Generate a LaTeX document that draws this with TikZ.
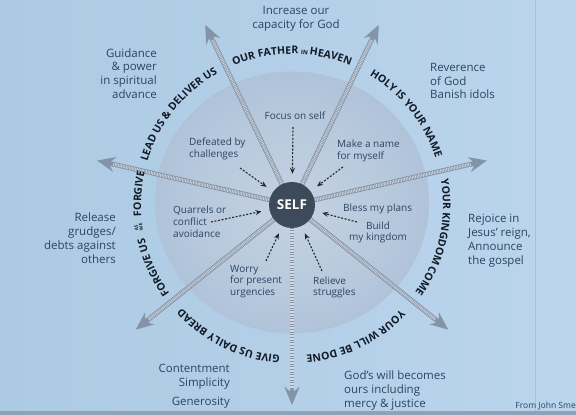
\documentclass[tikz,border=0pt]{standalone}
\usepackage{fontspec}
\setmainfont{Open Sans}
\usetikzlibrary{arrows.meta,decorations.text}

\definecolor{bgleft}{HTML}{ADCAE4}
\definecolor{bgright}{HTML}{BAD5EC}
\definecolor{bandgray}{HTML}{8EA2B8}
\definecolor{slideedge}{HTML}{A5C1DA}
\definecolor{disklight}{HTML}{C4D3E4}
\definecolor{diskmid}{HTML}{A3B8D1}
\definecolor{diskdark}{HTML}{88A0BF}
\definecolor{spokegray}{HTML}{8493A7}
\definecolor{inktext}{HTML}{2B4462}
\definecolor{archink}{HTML}{121A26}
\definecolor{selffill}{HTML}{3D4A59}

\pgfdeclareradialshading{diskshade}{\pgfpoint{0bp}{-1bp}}{color(0bp)=(disklight); color(18bp)=(disklight!60!diskmid); color(38bp)=(diskmid); color(50bp)=(diskdark)}

\newcommand\archfont{\color{archink}\bfseries\fontsize{10.5}{10.5}\selectfont}
\newcommand\archsmall{\color{archink}\bfseries\fontsize{6}{6}\selectfont}
\newcommand\ringr{151}

\tikzset{
  outer/.style={font=\fontsize{11.5}{13.8}\selectfont, text=inktext, inner sep=0pt},
  inner/.style={font=\fontsize{10}{11.8}\selectfont, text=inktext, inner sep=0pt},
  spoke/.style={line width=4.8pt, spokegray, -{Stealth[length=18pt,width=15pt,inset=6pt]},
    postaction={draw=white!65!spokegray, line width=3.2pt, dash pattern=on 0.7pt off 0.9pt, shorten >=16pt, -}},
  pointer/.style={line width=1.1pt, black!85, dash pattern=on 2pt off 1.6pt, -{Stealth[length=6pt,width=5pt]}, shorten >=8pt},
  ringtext/.style={decorate, decoration={text along path, text align=center, text={#1}}}
}

\begin{document}
\begin{tikzpicture}[x=1pt,y=1pt]
\useasboundingbox (0,0) rectangle (576,415);
\shade[left color=bgleft, right color=bgright] (0,0) rectangle (576,415);
\fill[bandgray] (0,0) rectangle (576,3.5);
\draw[slideedge, line width=0.7pt] (535,3.5) -- (535,415);

\coordinate (c) at (292,210);
\shade[shading=diskshade] (292,212.5) ellipse [x radius=137, y radius=131];

% seven spokes out of the self
\foreach \k in {0,...,6} {
  \coordinate (tip\k) at ([shift={({-90+\k*360/7}:200)}]c);
  \draw[spoke] (c) -- (tip\k);
}

\node[circle, fill=selffill, minimum size=46pt, inner sep=0pt, text=white,
  font=\bfseries\fontsize{13.5}{13.5}\selectfont] (self) at (c) {SELF};

% petitions round the ring
\path[ringtext={|\archfont|OUR FATHER |\archsmall|IN |\archfont|HEAVEN}]
  ([shift={(116:\ringr)}]c) arc[start angle=116, end angle=64, radius=\ringr];
\path[ringtext={|\archfont|HOLY IS YOUR NAME}]
  ([shift={(64.6:\ringr)}]c) arc[start angle=64.6, end angle=12.6, radius=\ringr];
\path[ringtext={|\archfont|YOUR KINGDOM COME}]
  ([shift={(13.1:\ringr)}]c) arc[start angle=13.1, end angle=-38.9, radius=\ringr];
\path[ringtext={|\archfont|YOUR WILL BE DONE}]
  ([shift={(-38.3:\ringr)}]c) arc[start angle=-38.3, end angle=-90.3, radius=\ringr];
\path[ringtext={|\archfont|GIVE US DAILY BREAD}]
  ([shift={(-89.7:\ringr)}]c) arc[start angle=-89.7, end angle=-141.7, radius=\ringr];
\path[decorate, decoration={text along path, text align=right, text={|\archfont|FORGIVE US}}]
  ([shift={(233:\ringr)}]c) arc[start angle=233, end angle=192.6, radius=\ringr];
\node[rotate=98.3, inner sep=0pt, align=center, text=archink,
  font=\bfseries\fontsize{4.5}{4.8}\selectfont] (aswe) at ([shift={(188.3:155)}]c) {AS\\WE};
\path[decorate, decoration={text along path, text align=left, text={|\archfont|FORGIVE}}]
  ([shift={(184.2:\ringr)}]c) arc[start angle=184.2, end angle=150, radius=\ringr];
\path[ringtext={|\archfont|LEAD US {\&} DELIVER US}]
  ([shift={(167.4:\ringr)}]c) arc[start angle=167.4, end angle=115.4, radius=\ringr];

% outside the ring
\node[outer, align=center] (grow) at (296,396) {Increase our\\capacity for God};
\node[outer, align=right, anchor=east] (guide) at (157,341.5) {Guidance\\\& power\\in spiritual\\advance};
\node[outer, align=left, anchor=west] (revere) at (430,334) {Reverence\\of God\\Banish idols};
\node[outer, align=right, anchor=east] (release) at (116,177) {Release\\grudges/\\debts against\\others};
\node[outer, align=left, anchor=west] (rejoice) at (468,174.5) {Rejoice in\\Jesus' reign,\\Announce\\the gospel};
\node[outer, align=right, anchor=east] (content) at (230,38) {Contentment\\Simplicity};
\node[outer, anchor=east] (generous) at (230,12) {Generosity};
\node[outer, align=left, anchor=west] (mercy) at (344,24.5) {God's will becomes\\ours including\\mercy \& justice};
\node[inner sep=0pt, anchor=east, text=inktext, font=\fontsize{8.5}{8.5}\selectfont] (source) at (576,9) {From John Sme};

% inside the disk
\node[inner] (focus) at (295,299) {Focus on self};
\node[inner, align=left, anchor=west] (defeat) at (189,266) {Defeated by\\challenges};
\node[inner, align=left, anchor=west] (fame) at (337,264) {Make a name\\for myself};
\node[inner, align=left, anchor=west] (quarrel) at (173,193) {Quarrels or\\conflict\\avoidance};
\node[inner, anchor=west] (bless) at (343,206) {Bless my plans};
\node[inner, align=center] (build) at (378,182.5) {Build\\my kingdom};
\node[inner, align=left, anchor=west] (worry) at (230,133.5) {Worry\\for present\\urgencies};
\node[inner, align=left, anchor=west] (relieve) at (313,127.5) {Relieve\\struggles};

\coordinate (pfocus) at (293,288);
\coordinate (pdefeat) at (240,247);
\coordinate (pfame) at (343,248);
\coordinate (pquarrel) at (211,193);
\coordinate (pbuild) at (357,193);
\coordinate (pworry) at (266,154);
\coordinate (prelieve) at (322,144);
\draw[pointer] (pfocus) -- (self);
\draw[pointer] (pdefeat) -- (self);
\draw[pointer] (pfame) -- (self);
\draw[pointer] (pquarrel) -- (self);
\draw[pointer] (pbuild) -- (self);
\draw[pointer] (pworry) -- (self);
\draw[pointer] (prelieve) -- (self);
\end{tikzpicture}
\end{document}
